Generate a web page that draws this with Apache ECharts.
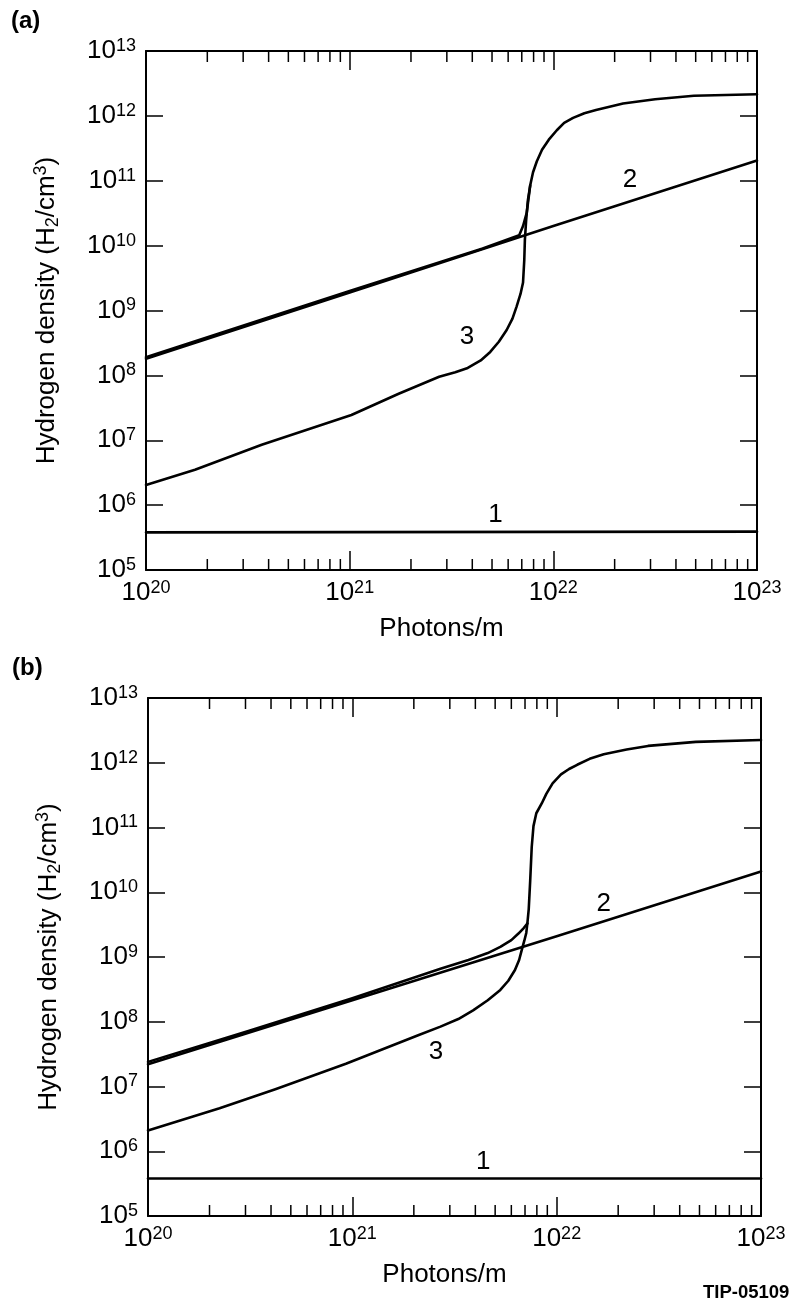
<!DOCTYPE html>
<html><head><meta charset="utf-8">
<script src="https://cdn.jsdelivr.net/npm/echarts@6/dist/echarts.min.js"></script>
<style>html,body{margin:0;padding:0;background:#fff}#c{width:791px;height:1304px}</style>
</head><body><div id="c"></div>
<script>
// ---------------- data ----------------
const xTicks = [1e20, 1e21, 1e22, 1e23];
const yTicks = [1e5, 1e6, 1e7, 1e8, 1e9, 1e10, 1e11, 1e12, 1e13];
const minorMantissas = [2, 3, 4, 5, 6, 7, 8, 9];
const xTitle = 'Photons/m';
const yTitleParts = ['Hydrogen density (H', '2', '/cm', '3', ')'];

// panel (a)
const a_curve1 = [[1e20, 3.8e5], [1e23, 3.9e5]];
const a_curve2 = [[1e20, 1.8e8], [1e21, 1.9e9], [1e22, 2.0e10], [1e23, 2.05e11]];
const a_curve3_low = [
  [1e20, 2.05e6], [1.74e20, 3.5e6], [3.7e20, 8.5e6], [1.02e21, 2.45e7], [1.74e21, 5.2e7],
  [2.75e21, 9.5e7], [3.3e21, 1.12e8], [3.8e21, 1.3e8], [4.4e21, 1.7e8], [4.9e21, 2.3e8],
  [5.4e21, 3.3e8], [5.9e21, 5.0e8], [6.3e21, 7.5e8], [6.6e21, 1.15e9], [6.9e21, 1.8e9],
  [7.1e21, 2.7e9], [7.2e21, 6.0e9], [7.25e21, 1.23e10], [7.35e21, 2.4e10], [7.5e21, 5.0e10],
  [7.7e21, 8.5e10], [7.95e21, 1.35e11], [8.3e21, 2.0e11], [8.8e21, 3.0e11], [9.5e21, 4.3e11],
  [1.04e22, 6.0e11], [1.13e22, 7.8e11], [1.25e22, 9.3e11], [1.42e22, 1.1e12], [1.62e22, 1.23e12],
  [2.2e22, 1.55e12], [3.16e22, 1.8e12], [4.9e22, 2.04e12], [1e23, 2.15e12]
];
const a_curve3_up = [[1e20, 1.9e8], [1e21, 2.0e9], [4.5e21, 9.0e9], [6.8e21, 1.45e10], [7.1e21, 2.0e10],
  [7.4e21, 3.2e10], [7.7e21, 8.5e10]];
const a_labels = [[3.77e21, 3.9e8, '3'], [2.38e22, 1.02e11, '2'], [5.2e21, 7.1e5, '1']];

// panel (b)
const b_curve1 = [[1e20, 3.8e5], [1e23, 3.8e5]];
const b_curve2 = [[1e20, 2.2e7], [1e21, 2.15e8], [1e22, 2.1e9], [1e23, 2.1e10]];
const b_curve3_low = [
  [1e20, 2.1e6], [2.24e20, 4.6e6], [4.2e20, 9.1e6], [9.3e20, 2.24e7], [2.1e21, 6.2e7],
  [2.7e21, 8.4e7], [3.3e21, 1.1e8], [3.9e21, 1.5e8], [4.6e21, 2.15e8], [5.3e21, 3.1e8],
  [5.8e21, 4.3e8], [6.25e21, 6.3e8], [6.55e21, 9.0e8], [6.75e21, 1.29e9], [6.95e21, 1.8e9],
  [7.1e21, 2.35e9], [7.2e21, 3.5e9], [7.3e21, 5.5e9], [7.42e21, 1.5e10], [7.55e21, 5e10],
  [7.7e21, 1.05e11], [7.95e21, 1.66e11], [8.45e21, 2.35e11], [8.9e21, 3.3e11], [9.55e21, 4.8e11],
  [1.05e22, 6.6e11], [1.15e22, 8.0e11], [1.26e22, 9.3e11], [1.45e22, 1.15e12], [1.7e22, 1.35e12],
  [2.2e22, 1.6e12], [2.8e22, 1.82e12], [4.8e22, 2.1e12], [1e23, 2.24e12]
];
const b_curve3_up = [[1e20, 2.4e7], [3.1e20, 7.2e7], [1e21, 2.3e8], [2.7e21, 6.6e8], [3.7e21, 9.0e8],
  [4.6e21, 1.15e9], [5.3e21, 1.43e9], [6.0e21, 1.82e9], [6.5e21, 2.3e9], [6.9e21, 2.8e9], [7.2e21, 3.3e9]];
const b_labels = [[1.7e22, 6.6e9, '2'], [2.57e21, 3.4e7, '3'], [4.37e21, 6.8e5, '1']];

// ---------------- chart ----------------
const FONT = '"Liberation Sans", Arial, Helvetica, sans-serif';
const INK = '#000';
const X_MIN = xTicks[0], X_MAX = xTicks[xTicks.length - 1];
const Y_MIN = yTicks[0], Y_MAX = yTicks[yTicks.length - 1];

const minorTicks = [];
xTicks.slice(0, -1).forEach(d => minorMantissas.forEach(m => minorTicks.push([m * d, Y_MIN])));

const tickRich = {
  b: { fontSize: 26, fontFamily: FONT, color: INK, lineHeight: 28 },
  s: { fontSize: 18, fontFamily: FONT, color: INK, lineHeight: 18, verticalAlign: 'top' }
};
function powLabel(v) {
  const e = Math.round(Math.log10(v));
  return '{b|10}{s|' + e + '}';
}
const yName = '{m|' + yTitleParts[0] + '}{sub|' + yTitleParts[1] + '}{m|' + yTitleParts[2] + '}{sup|' + yTitleParts[3] + '}{m|' + yTitleParts[4] + '}';
const nameRich = {
  m: { fontSize: 26, fontFamily: FONT, color: INK, lineHeight: 30 },
  sub: { fontSize: 18, fontFamily: FONT, color: INK, lineHeight: 18, verticalAlign: 'bottom' },
  sup: { fontSize: 18, fontFamily: FONT, color: INK, lineHeight: 18, verticalAlign: 'top' }
};

function xAxes(gi) {
  const common = {
    gridIndex: gi, type: 'log', logBase: 10, min: X_MIN, max: X_MAX, interval: 1,
    axisLine: { show: true, onZero: false, lineStyle: { color: INK, width: 2 } },
    axisTick: { show: true, inside: true, length: 19, lineStyle: { color: INK, width: 1.5 } },
    minorTick: { show: false }, splitLine: { show: false }, minorSplitLine: { show: false }
  };
  return [
    Object.assign({}, common, {
      position: 'bottom',
      axisLabel: { show: true, formatter: powLabel, margin: 9, rich: tickRich },
      name: xTitle, nameLocation: 'middle', nameGap: 46,
      nameTextStyle: { fontSize: 26, fontFamily: FONT, color: INK, padding: [0, 20, 0, 0] }
    }),
    Object.assign({}, common, { position: 'top', axisLabel: { show: false } })
  ];
}
function yAxes(gi) {
  const common = {
    gridIndex: gi, type: 'log', logBase: 10, min: Y_MIN, max: Y_MAX, interval: 1,
    axisLine: { show: true, onZero: false, lineStyle: { color: INK, width: 2 } },
    axisTick: { show: true, inside: true, length: 17, lineStyle: { color: INK, width: 1.5 } },
    minorTick: { show: false }, splitLine: { show: false }, minorSplitLine: { show: false }
  };
  return [
    Object.assign({}, common, {
      position: 'left',
      axisLabel: { show: true, formatter: powLabel, margin: 10, rich: tickRich },
      name: yName, nameLocation: 'middle', nameRotate: 90, nameGap: 84,
      nameTextStyle: { rich: nameRich }
    }),
    Object.assign({}, common, { position: 'right', axisLabel: { show: false } })
  ];
}

function lineSeries(data, xi, yi) {
  return {
    type: 'line', data: data, xAxisIndex: xi, yAxisIndex: yi,
    symbol: 'none', smooth: false, clip: true,
    lineStyle: { color: INK, width: 2.6, join: 'round', cap: 'round' }, silent: true, animation: false
  };
}
function labelSeries(data, xi, yi) {
  return {
    type: 'scatter', data: data, xAxisIndex: xi, yAxisIndex: yi,
    symbolSize: 1, itemStyle: { color: 'rgba(0,0,0,0)' }, silent: true, animation: false,
    label: { show: true, position: 'inside', formatter: p => p.data[2],
      fontSize: 26, fontFamily: FONT, color: '#000', opacity: 1, textBorderWidth: 0 }
  };
}
function minorTickSeries(xi, yi) {
  return {
    type: 'custom', xAxisIndex: xi, yAxisIndex: yi, data: minorTicks, silent: true, animation: false,
    encode: { x: 0, y: 1 },
    renderItem: (params, api) => {
      const v = api.value(0);
      const b = api.coord([v, Y_MIN]);
      const t = api.coord([v, Y_MAX]);
      const st = { stroke: INK, lineWidth: 1.5 };
      return { type: 'group', children: [
        { type: 'line', shape: { x1: b[0], y1: b[1], x2: b[0], y2: b[1] - 11 }, style: st },
        { type: 'line', shape: { x1: t[0], y1: t[1], x2: t[0], y2: t[1] + 11 }, style: st }
      ] };
    }
  };
}

const chart = echarts.init(document.getElementById('c'), null, { renderer: 'canvas' });
chart.setOption({
  backgroundColor: '#fff',
  animation: false,
  grid: [
    { left: 146, top: 51, width: 611, height: 519 },
    { left: 148, top: 698, width: 613, height: 518 }
  ],
  xAxis: [...xAxes(0), ...xAxes(1)],
  yAxis: [...yAxes(0), ...yAxes(1)],
  series: [
    minorTickSeries(0, 0),
    lineSeries(a_curve1, 0, 0),
    lineSeries(a_curve2, 0, 0),
    lineSeries(a_curve3_up, 0, 0),
    lineSeries(a_curve3_low, 0, 0),
    labelSeries(a_labels, 0, 0),
    minorTickSeries(2, 2),
    lineSeries(b_curve1, 2, 2),
    lineSeries(b_curve2, 2, 2),
    lineSeries(b_curve3_up, 2, 2),
    lineSeries(b_curve3_low, 2, 2),
    labelSeries(b_labels, 2, 2)
  ],
  graphic: [
    { type: 'text', left: 11, top: 9, style: { text: '(a)', font: 'bold 24px ' + FONT, fill: INK } },
    { type: 'text', left: 12, top: 656, style: { text: '(b)', font: 'bold 24px ' + FONT, fill: INK } },
    { type: 'text', left: 703, top: 1283, style: { text: 'TIP-05109', font: 'bold 18.5px ' + FONT, fill: INK } }
  ]
});
</script>
</body></html>
